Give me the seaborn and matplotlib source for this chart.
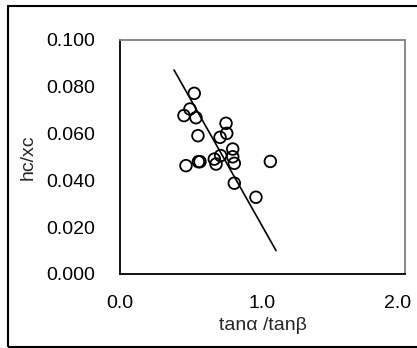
import matplotlib
matplotlib.use('Agg')
import matplotlib.pyplot as plt
import matplotlib.transforms as mtransforms
import pandas as pd
import seaborn as sns
from matplotlib.patches import Rectangle

# Data
ratio = [0.521, 0.491, 0.449, 0.533, 0.744, 0.749, 0.547, 0.702, 0.791, 0.706,
         0.791, 0.662, 0.550, 0.561, 0.674, 0.802, 0.463, 1.055, 0.802, 0.954]
hc_xc = [0.0772, 0.0705, 0.0677, 0.0668, 0.0644, 0.0601, 0.0591, 0.0584, 0.0534, 0.0506,
         0.0501, 0.0491, 0.0480, 0.0480, 0.0470, 0.0473, 0.0463, 0.0481, 0.0388, 0.0328]

# Fitted trend line end points
fit_x = [0.379, 1.095]
fit_y = [0.0872, 0.0100]

x_ticks = [0.0, 1.0, 2.0]
y_ticks = [0.0, 0.02, 0.04, 0.06, 0.08, 0.10]

df = pd.DataFrame({'ratio': ratio, 'hc_xc': hc_xc})
fit = pd.DataFrame({'x': fit_x, 'y': fit_y})

sns.set_style('white')
plt.rcParams['font.family'] = ['Liberation Sans', 'DejaVu Sans']

fig = plt.figure(figsize=(4.17, 3.48), dpi=100)
ax = fig.add_axes([120 / 417, 74 / 348, 285 / 417, 234 / 348])

sns.lineplot(data=fit, x='x', y='y', ax=ax, color='black', linewidth=1.2)
sns.scatterplot(data=df, x='ratio', y='hc_xc', ax=ax, s=70, facecolor='none',
                edgecolor='black', linewidth=1.3, zorder=3)

ax.set_xlim(0, 2.0)
ax.set_ylim(0, 0.1)
ax.set_xticks(x_ticks)
ax.set_xticklabels([f'{v:.1f}' for v in x_ticks])
ax.set_yticks(y_ticks)
ax.set_yticklabels([f'{v:.3f}' for v in y_ticks])
ax.tick_params(axis='both', direction='in', length=4, width=1, color='black',
               labelsize=14, colors='black')
ax.tick_params(axis='y', pad=18)
ax.tick_params(axis='x', pad=15)

# keep the last x label inside the chart area, like the original
last = ax.get_xticklabels()[-1]
last.set_transform(last.get_transform() +
                   mtransforms.ScaledTranslation(-5 / 72, 0, fig.dpi_scale_trans))

ax.set_xlabel('tanα /tanβ', fontsize=14, labelpad=4)
ax.set_ylabel('hc/xc', fontsize=14, labelpad=7)

for side in ['left', 'bottom']:
    ax.spines[side].set_color('black')
    ax.spines[side].set_linewidth(1.3)
for side in ['top', 'right']:
    ax.spines[side].set_color('#808080')
    ax.spines[side].set_linewidth(1.3)

# Outer chart border
fig.patches.append(Rectangle((8 / 417, 1 / 348), 420 / 417, 341 / 348,
                             transform=fig.transFigure, fill=False,
                             edgecolor='black', linewidth=1.5, clip_on=False))

fig.savefig('out.png', dpi=100)
